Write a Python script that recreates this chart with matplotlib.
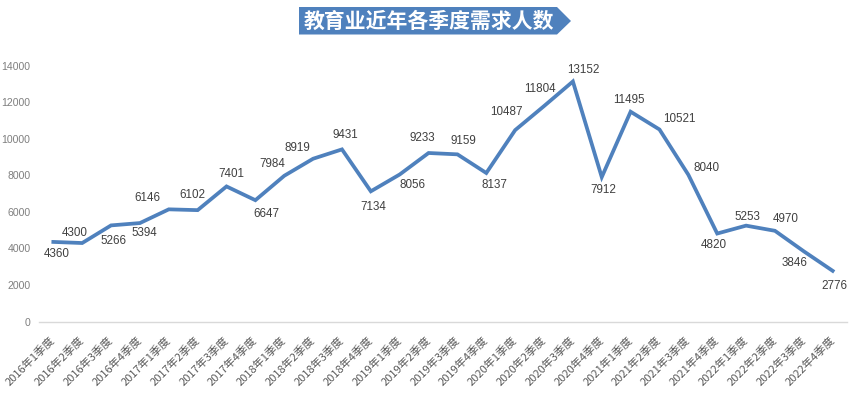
import matplotlib
matplotlib.use("Agg")
import matplotlib.pyplot as plt
from matplotlib.patches import Polygon

plt.rcParams['font.family'] = ['Noto Sans CJK SC', 'DejaVu Sans']

# ---- data ----
years = [2016, 2017, 2018, 2019, 2020, 2021, 2022]
quarters = [1, 2, 3, 4]
categories = [f"{y}年{q}季度" for y in years for q in quarters]
values = [4360, 4300, 5266, 5394, 6146, 6102, 7401, 6647,
          7984, 8919, 9431, 7134, 8056, 9233, 9159, 8137,
          10487, 11804, 13152, 7912, 11495, 10521, 8040, 4820,
          5253, 4970, 3846, 2776]
title = "教育业近年各季度需求人数"
yticks = [0, 2000, 4000, 6000, 8000, 10000, 12000, 14000]

# ---- label offsets (pixels, image coords: +y is down) ----
label_offsets = [(3, 12), (-8, -10), (2, 16), (4, 10), (-21, -11), (-5, -15),
                 (5, -12), (11, 14), (-12, -12), (-16, -11), (3, -14), (2, 16),
                 (13, 11), (-6, -15), (6, -13), (8, 12), (-9, -18), (-4, -17),
                 (10, -11), (2, 13), (-2, -12), (20, -10), (18, -7), (-3, 11),
                 (1, -9), (11, -12), (-9, 12), (2, 15)]

W, H = 858, 399
fig = plt.figure(figsize=(W / 100, H / 100), dpi=100)
fig.patch.set_facecolor('white')

left_px, right_px = 38.9, 847.1
top_px, bot_px = 66.0, 321.5
ax = fig.add_axes([left_px / W, 1 - bot_px / H, (right_px - left_px) / W, (bot_px - top_px) / H])

x = list(range(len(categories)))
ax.plot(x, values, color='#4f81bd', linewidth=2.7, solid_joinstyle='miter', clip_on=False, zorder=3)

ax.set_xlim(-0.5, len(categories) - 0.5)
ax.set_ylim(0, 14000)
ax.set_yticks(yticks)
ax.set_yticklabels([str(v) for v in yticks], fontsize=7.6, color='#7f7f7f',
                   family=['Liberation Sans', 'DejaVu Sans'])
ax.set_xticks(x)
ax.set_xticklabels(categories, rotation=45, ha='right', va='center',
                   rotation_mode='anchor', fontsize=8.0, color='#595959')
ax.tick_params(axis='both', length=0)
ax.tick_params(axis='y', pad=6)
ax.tick_params(axis='x', pad=12)

for s in ['top', 'right', 'left']:
    ax.spines[s].set_visible(False)
ax.spines['bottom'].set_color('#d9d9d9')
ax.spines['bottom'].set_linewidth(1.0)

for xi, v, (dx, dy) in zip(x, values, label_offsets):
    ax.annotate(str(v), (xi, v), xytext=(dx * 0.72, -dy * 0.72), textcoords='offset points',
                ha='center', va='center', fontsize=8.4, color='#404040',
                family=['Liberation Sans', 'DejaVu Sans'], annotation_clip=False)

# ---- title banner ----
pts_px = [(299, 7), (557, 7), (571, 21), (557, 34.5), (299, 34.5)]
poly = Polygon([(px / W, 1 - py / H) for px, py in pts_px], closed=True,
               transform=fig.transFigure, facecolor='#4f81bd', edgecolor='none')
fig.patches.append(poly)
fig.text(429 / W, 1 - 21 / H, title, ha='center', va='center', fontsize=15,
         color='white', fontweight='bold')

fig.savefig('out.png', dpi=100, facecolor='white')
